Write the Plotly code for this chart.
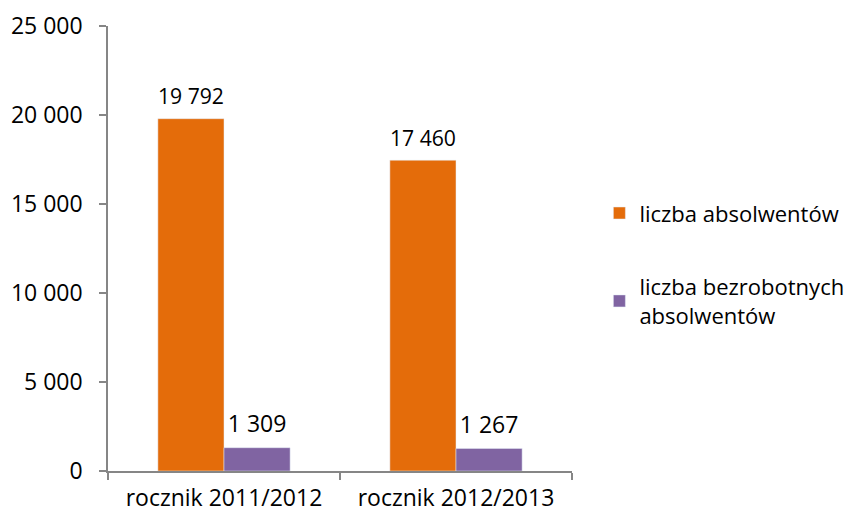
import plotly.graph_objects as go

categories = ["rocznik 2011/2012", "rocznik 2012/2013"]
absolwenci = [19792, 17460]
bezrobotni = [1309, 1267]
series_names = ["liczba absolwentów", "liczba bezrobotnych<br>absolwentów"]
y_ticks = [0, 5000, 10000, 15000, 20000, 25000]

FONT = "Open Sans"
AXIS = "#868686"
FS = 23
LABEL_TMPL = "<span style='font-size:23px'>%{y:,}</span><br> "

fig = go.Figure()
fig.add_trace(go.Bar(
    x=categories, y=absolwenci, name=series_names[0], legendgroup="a",
    marker=dict(color="#E46C0A"),
    texttemplate=LABEL_TMPL, textposition="outside", cliponaxis=False,
    textfont=dict(family=FONT, size=8, color="#000000"),
))
fig.add_trace(go.Bar(
    x=categories, y=bezrobotni, name=series_names[1], legendgroup="b",
    marker=dict(color="#8064A2"),
    texttemplate=LABEL_TMPL, textposition="outside", cliponaxis=False,
    textfont=dict(family=FONT, size=8, color="#000000"),
))

fig.update_layout(
    width=849, height=515,
    margin=dict(l=100, r=285, t=18, b=52, autoexpand=False),
    paper_bgcolor="white", plot_bgcolor="white",
    separators=", ",
    barmode="group", bargap=0.43, bargroupgap=0,
    font=dict(family=FONT, size=FS, color="#000000"),
    showlegend=True,
    legend=dict(x=1.059, y=0.6265, xanchor="left", yanchor="top",
                font=dict(family=FONT, size=22), tracegroupgap=42,
                itemwidth=30, bgcolor="rgba(0,0,0,0)"),
)
fig.update_xaxes(
    showline=True, linecolor=AXIS, linewidth=1.5,
    ticks="outside", tickson="boundaries", ticklen=7, tickcolor=AXIS, tickwidth=1.5,
    ticklabelstandoff=6,
    tickfont=dict(family=FONT, size=FS),
)
fig.update_yaxes(
    range=[0, 25000], tickvals=y_ticks, tickformat=",",
    showline=True, linecolor=AXIS, linewidth=1.5,
    ticks="outside", ticklen=7, tickcolor=AXIS, tickwidth=1.5,
    ticklabelstandoff=12,
    showgrid=False, zeroline=False,
    tickfont=dict(family=FONT, size=FS),
)

fig.write_html("out.html")
